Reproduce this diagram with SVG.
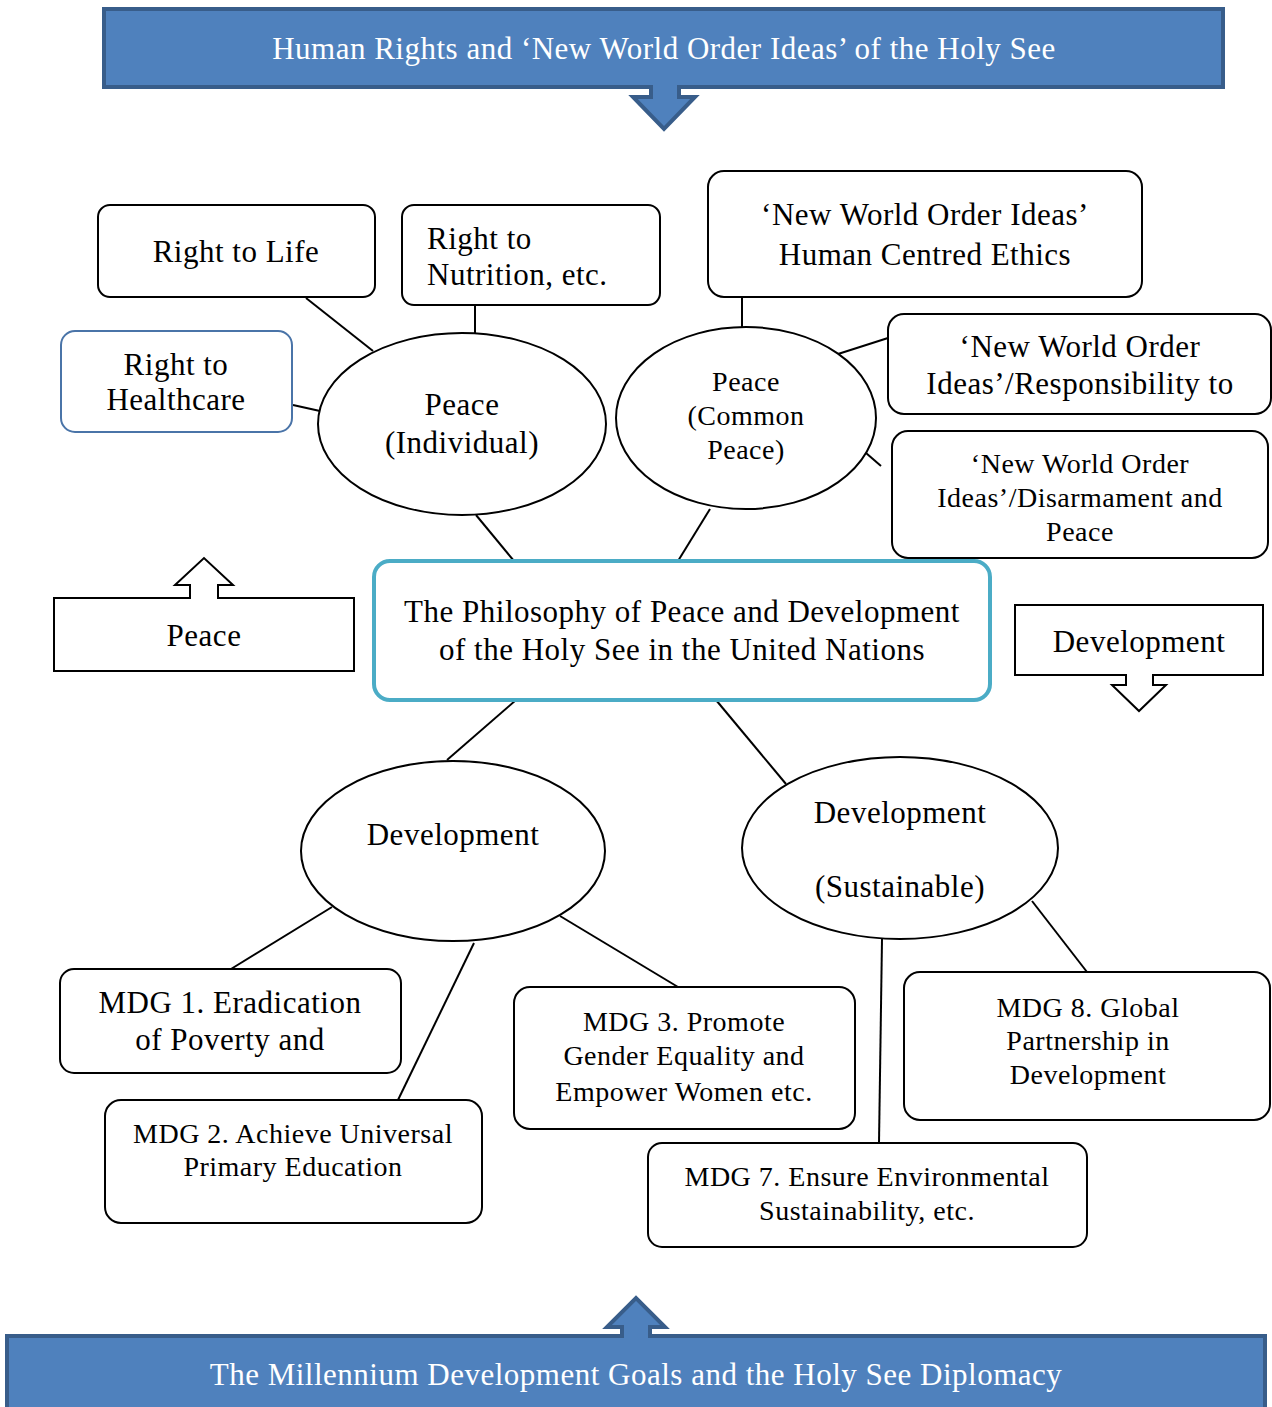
<svg xmlns="http://www.w3.org/2000/svg" width="1272" height="1407" viewBox="0 0 1272 1407">
<style>
text{font-family:"Liberation Serif","Times New Roman",serif;fill:#000;text-anchor:middle;letter-spacing:0.5px}
.t28{font-size:31px}
.t26{font-size:28px}
.ban{font-size:31px;fill:#fff}
.box{fill:#fff;stroke:#000;stroke-width:2}
.bnr{fill:#4F81BD;stroke:#385D8A;stroke-width:4}
.con line{stroke:#000;stroke-width:2}
</style>
<rect width="1272" height="1407" fill="#fff"/>
<g id="top-banner">
<rect class="bnr" x="104" y="9" width="1119" height="78"/>
<path class="bnr" d="M651,87 L651,97 L633,97 L664,129 L695,97 L679,97 L679,87" stroke-linejoin="miter"/>
<rect x="653" y="85" width="24" height="6" fill="#4F81BD"/>
<text class="ban" x="664" y="59">Human Rights and ‘New World Order Ideas’ of the Holy See</text>
</g>
<g class="con" id="connectors">
<line x1="306" y1="298" x2="373" y2="351"/>
<line x1="475" y1="305" x2="475" y2="333"/>
<line x1="293" y1="405" x2="320" y2="411"/>
<line x1="742" y1="297" x2="742" y2="327"/>
<line x1="888" y1="338" x2="838" y2="354"/>
<line x1="866" y1="453" x2="881" y2="466"/>
<line x1="476" y1="515" x2="514" y2="561"/>
<line x1="710" y1="509" x2="678" y2="561"/>
<line x1="516" y1="700" x2="447" y2="760"/>
<line x1="716" y1="700" x2="786" y2="784"/>
<line x1="332" y1="907" x2="231" y2="969"/>
<line x1="474" y1="943" x2="398" y2="1100"/>
<line x1="560" y1="916" x2="678" y2="987"/>
<line x1="882" y1="939" x2="879" y2="1143"/>
<line x1="1032" y1="901" x2="1087" y2="972"/>
</g>
<g id="right-to-life">
<rect class="box" x="98" y="205" width="277" height="92" rx="12"/>
<text class="t28" x="236" y="262">Right to Life</text>
</g>
<g id="right-to-nutrition">
<rect class="box" x="402" y="205" width="258" height="100" rx="12"/>
<text class="t28" x="427" y="249" style="text-anchor:start">Right to</text>
<text class="t28" x="427" y="285" style="text-anchor:start">Nutrition, etc.</text>
</g>
<g id="human-centred">
<rect class="box" x="708" y="171" width="434" height="126" rx="16"/>
<text class="t28" x="925" y="225">‘New World Order Ideas’</text>
<text class="t28" x="925" y="265">Human Centred Ethics</text>
</g>
<g id="right-to-healthcare">
<rect x="61" y="331" width="231" height="101" rx="14" fill="#fff" stroke="#4A74A8" stroke-width="2"/>
<text class="t28" x="176" y="375">Right to</text>
<text class="t28" x="176" y="410">Healthcare</text>
</g>
<g id="peace-individual">
<ellipse class="box" cx="462" cy="424" rx="144" ry="91"/>
<text class="t28" x="462" y="415">Peace</text>
<text class="t28" x="462" y="453">(Individual)</text>
</g>
<g id="peace-common">
<ellipse class="box" cx="746" cy="418" rx="130" ry="91"/>
<text class="t26" x="746" y="391">Peace</text>
<text class="t26" x="746" y="425">(Common</text>
<text class="t26" x="746" y="459">Peace)</text>
</g>
<g id="responsibility">
<rect class="box" x="888" y="314" width="383" height="100" rx="16"/>
<text class="t28" x="1080" y="357">‘New World Order</text>
<text class="t28" x="1080" y="394">Ideas’/Responsibility to</text>
</g>
<g id="disarmament">
<rect class="box" x="892" y="431" width="376" height="127" rx="16"/>
<text class="t26" x="1080" y="473">‘New World Order</text>
<text class="t26" x="1080" y="507">Ideas’/Disarmament and</text>
<text class="t26" x="1080" y="541">Peace</text>
</g>
<g id="peace-arrow">
<path class="box" d="M54,598 L190,598 L190,585 L175,585 L204,558 L233,585 L218,585 L218,598 L354,598 L354,671 L54,671 Z"/>
<text class="t28" x="204" y="646">Peace</text>
</g>
<g id="center">
<rect x="374" y="561" width="616" height="139" rx="16" fill="#fff" stroke="#4BACC6" stroke-width="4"/>
<text class="t28" x="682" y="622">The Philosophy of Peace and Development</text>
<text class="t28" x="682" y="660">of the Holy See in the United Nations</text>
</g>
<g id="development-arrow">
<path class="box" d="M1015,605 L1263,605 L1263,675 L1153,675 L1153,685 L1166,685 L1139,711 L1112,685 L1126,685 L1126,675 L1015,675 Z"/>
<text class="t28" x="1139" y="652">Development</text>
</g>
<g id="development">
<ellipse class="box" cx="453" cy="851" rx="152" ry="90"/>
<text class="t28" x="453" y="845">Development</text>
</g>
<g id="development-sustainable">
<ellipse class="box" cx="900" cy="848" rx="158" ry="91"/>
<text class="t28" x="900" y="823">Development</text>
<text class="t28" x="900" y="897">(Sustainable)</text>
</g>
<g id="mdg1">
<rect class="box" x="60" y="969" width="341" height="104" rx="14"/>
<text class="t28" x="230" y="1013">MDG 1. Eradication</text>
<text class="t28" x="230" y="1050">of Poverty and</text>
</g>
<g id="mdg2">
<rect class="box" x="105" y="1100" width="377" height="123" rx="16"/>
<text class="t26" x="293" y="1143">MDG 2. Achieve Universal</text>
<text class="t26" x="293" y="1176">Primary Education</text>
</g>
<g id="mdg3">
<rect class="box" x="514" y="987" width="341" height="142" rx="16"/>
<text class="t26" x="684" y="1031">MDG 3. Promote</text>
<text class="t26" x="684" y="1065">Gender Equality and</text>
<text class="t26" x="684" y="1101">Empower Women etc.</text>
</g>
<g id="mdg8">
<rect class="box" x="904" y="972" width="366" height="148" rx="16"/>
<text class="t26" x="1088" y="1017">MDG 8. Global</text>
<text class="t26" x="1088" y="1050">Partnership in</text>
<text class="t26" x="1088" y="1084">Development</text>
</g>
<g id="mdg7">
<rect class="box" x="648" y="1143" width="439" height="104" rx="14"/>
<text class="t26" x="867" y="1186">MDG 7. Ensure Environmental</text>
<text class="t26" x="867" y="1220">Sustainability, etc.</text>
</g>
<g id="bottom-banner">
<rect class="bnr" x="7" y="1336" width="1258" height="80"/>
<path class="bnr" d="M622,1336 L622,1327 L607,1327 L636,1298 L665,1327 L650,1327 L650,1336"/>
<rect x="624" y="1332" width="24" height="6" fill="#4F81BD"/>
<text class="ban" x="636" y="1385">The Millennium Development Goals and the Holy See Diplomacy</text>
</g>
</svg>
